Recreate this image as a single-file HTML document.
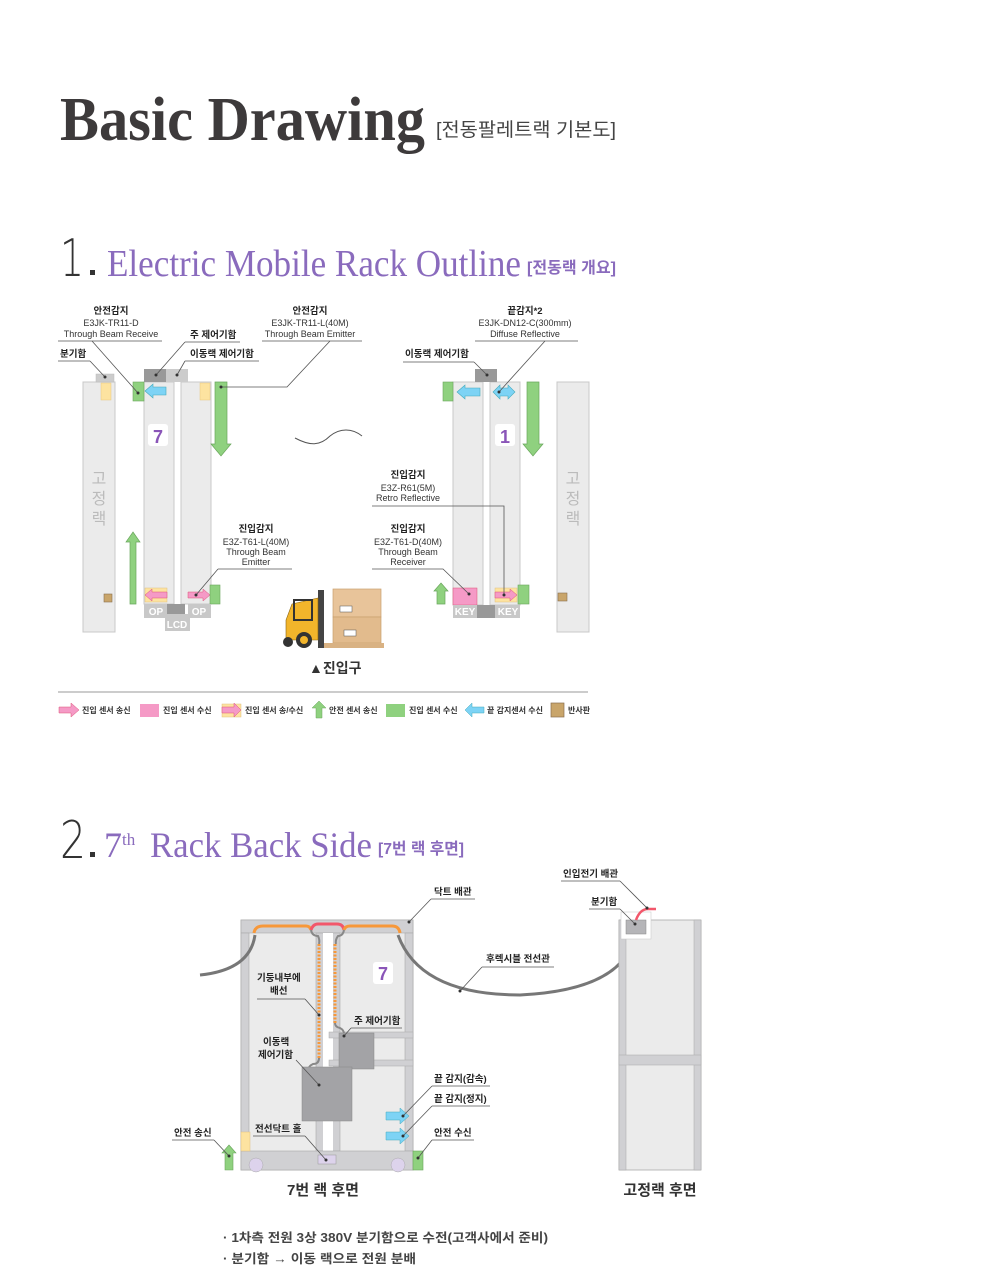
<!DOCTYPE html>
<html><head><meta charset="utf-8"><style>
html,body{margin:0;padding:0;background:#fff;}
svg{display:block}
text{font-family:"Liberation Sans","Noto Sans CJK KR",sans-serif;}
.s{font-size:9px;fill:#333;}
.b{font-size:9.5px;fill:#222;font-weight:bold;}
.ln{stroke:#555;stroke-width:0.8;fill:none;}
.dot{fill:#333;}
</style></head><body>
<svg width="981" height="1270" viewBox="0 0 981 1270" xmlns="http://www.w3.org/2000/svg">
<text x="60" y="140" font-size="62" font-weight="bold" fill="#3d3a3b" textLength="365" lengthAdjust="spacingAndGlyphs" style="font-family:'Liberation Serif',serif">Basic Drawing</text>
<text x="436" y="136" font-size="19" fill="#444" textLength="180" lengthAdjust="spacingAndGlyphs">[전동팔레트랙 기본도]</text>

<text x="60" y="276" font-size="52" fill="#333" textLength="24" lengthAdjust="spacingAndGlyphs" style="font-family:'DejaVu Sans',sans-serif;font-weight:200">1</text>
<rect x="90" y="270" width="5" height="5" fill="#333"/>
<text x="107" y="276" font-size="38" fill="#8a6bbd" textLength="414" lengthAdjust="spacingAndGlyphs" style="font-family:'Liberation Serif',serif">Electric Mobile Rack Outline</text>
<text x="527" y="273" font-size="16" fill="#8a6bbd" font-weight="bold" textLength="89" lengthAdjust="spacingAndGlyphs">[전동랙 개요]</text>

<rect x="83" y="382" width="32" height="250" fill="#ebebeb" stroke="#c8c8c8"/>
<rect x="96" y="374" width="18" height="8" fill="#ccc" stroke="#bbb" stroke-width="0.5"/>
<rect x="101" y="383" width="10" height="17" fill="#fde3a0" stroke="#e8c880" stroke-width="0.5"/>
<text x="99" y="484" font-size="16" fill="#bbb" text-anchor="middle">고</text>
<text x="99" y="504" font-size="16" fill="#bbb" text-anchor="middle">정</text>
<text x="99" y="524" font-size="16" fill="#bbb" text-anchor="middle">랙</text>
<rect x="104" y="594" width="8" height="8" fill="#c9a56a" stroke="#8a7050" stroke-width="0.6"/>

<polygon points="133,532 140,542 136,542 136,604 130,604 130,542 126,542" fill="#8fd17f" stroke="#6aa65c" stroke-width="0.7"/>

<rect x="144" y="382" width="30" height="222" fill="#ebebeb" stroke="#c8c8c8"/>
<rect x="181" y="382" width="30" height="222" fill="#ebebeb" stroke="#c8c8c8"/>
<rect x="144" y="369" width="22" height="13" fill="#999"/>
<rect x="166" y="369" width="22" height="13" fill="#ccc"/>
<rect x="133" y="382" width="11" height="19" fill="#8fd17f" stroke="#6aa65c" stroke-width="0.6"/>
<polygon points="145,391 153,384 153,387 166,387 166,395 153,395 153,398" fill="#7dd3f5" stroke="#4ab" stroke-width="0.6"/>
<rect x="200" y="383" width="10" height="17" fill="#fde3a0" stroke="#e8c880" stroke-width="0.5"/>
<polygon points="215,382 227,382 227,444 231,444 221,456 211,444 215,444" fill="#8fd17f" stroke="#6aa65c" stroke-width="0.7"/>
<rect x="148" y="424" width="20" height="22" rx="3" fill="#fff"/>
<text x="158" y="443" font-size="18" font-weight="bold" fill="#8a55b8" text-anchor="middle">7</text>
<rect x="145" y="588" width="22" height="14" fill="#fde3a0" stroke="#e0c080" stroke-width="0.5"/>
<polygon points="145,595 152,589 152,592 167,592 167,598 152,598 152,601" fill="#f59ac6" stroke="#d57" stroke-width="0.5"/>
<polygon points="188,592 203,592 203,589 210,595 203,601 203,598 188,598" fill="#f59ac6" stroke="#d57" stroke-width="0.5"/>
<rect x="210" y="585" width="10" height="19" fill="#8fd17f" stroke="#6aa65c" stroke-width="0.6"/>
<rect x="144" y="604" width="23" height="14" fill="#c8c8c8"/>
<rect x="167" y="604" width="18" height="10" fill="#999"/>
<rect x="188" y="604" width="23" height="14" fill="#c8c8c8"/>
<rect x="165" y="614" width="25" height="17" fill="#c8c8c8"/>
<text x="156" y="615" font-size="10" font-weight="bold" fill="#fff" text-anchor="middle">OP</text>
<text x="199" y="615" font-size="10" font-weight="bold" fill="#fff" text-anchor="middle">OP</text>
<text x="177" y="628" font-size="10" font-weight="bold" fill="#fff" text-anchor="middle">LCD</text>

<path d="M295,438 C310,446 320,446 330,436 C340,428 352,428 362,436" fill="none" stroke="#555" stroke-width="1"/>

<rect x="453" y="382" width="30" height="223" fill="#ebebeb" stroke="#c8c8c8"/>
<rect x="490" y="382" width="30" height="223" fill="#ebebeb" stroke="#c8c8c8"/>
<rect x="475" y="369" width="22" height="13" fill="#999"/>
<rect x="443" y="382" width="10" height="19" fill="#8fd17f" stroke="#6aa65c" stroke-width="0.6"/>
<polygon points="457,392 465,385 465,388 480,388 480,396 465,396 465,399" fill="#7dd3f5" stroke="#4ab" stroke-width="0.6"/>
<polygon points="493,392 500,385 500,388 508,388 508,385 515,392 508,399 508,396 500,396 500,399" fill="#7dd3f5" stroke="#4ab" stroke-width="0.6"/>
<polygon points="527,382 539,382 539,444 543,444 533,456 523,444 527,444" fill="#8fd17f" stroke="#6aa65c" stroke-width="0.7"/>
<rect x="495" y="424" width="20" height="22" rx="3" fill="#fff"/>
<text x="505" y="443" font-size="18" font-weight="bold" fill="#8a55b8" text-anchor="middle">1</text>
<polygon points="441,583 448,591 445,591 445,604 437,604 437,591 434,591" fill="#8fd17f" stroke="#6aa65c" stroke-width="0.7"/>
<rect x="453" y="588" width="24" height="17" fill="#f59ac6" stroke="#d57" stroke-width="0.5"/>
<rect x="495" y="588" width="22" height="14" fill="#fde3a0" stroke="#e0c080" stroke-width="0.5"/>
<polygon points="495,592 510,592 510,589 517,595 510,601 510,598 495,598" fill="#f59ac6" stroke="#d57" stroke-width="0.5"/>
<rect x="518" y="585" width="11" height="19" fill="#8fd17f" stroke="#6aa65c" stroke-width="0.6"/>
<rect x="453" y="605" width="24" height="13" fill="#c8c8c8"/>
<rect x="477" y="605" width="18" height="13" fill="#999"/>
<rect x="495" y="605" width="25" height="13" fill="#c8c8c8"/>
<text x="465" y="615" font-size="10" font-weight="bold" fill="#fff" text-anchor="middle">KEY</text>
<text x="508" y="615" font-size="10" font-weight="bold" fill="#fff" text-anchor="middle">KEY</text>

<rect x="557" y="382" width="32" height="250" fill="#ebebeb" stroke="#c8c8c8"/>
<text x="573" y="484" font-size="16" fill="#bbb" text-anchor="middle">고</text>
<text x="573" y="504" font-size="16" fill="#bbb" text-anchor="middle">정</text>
<text x="573" y="524" font-size="16" fill="#bbb" text-anchor="middle">랙</text>
<rect x="558" y="593" width="9" height="8" fill="#c9a56a" stroke="#8a7050" stroke-width="0.6"/>

<g>
<rect x="333" y="589" width="48" height="28" fill="#e8c49a" stroke="#c9a070" stroke-width="0.7"/>
<rect x="333" y="617" width="48" height="26" fill="#e2bb8d" stroke="#c9a070" stroke-width="0.7"/>
<rect x="340" y="606" width="12" height="6" fill="#fff" stroke="#555" stroke-width="0.5"/>
<rect x="344" y="630" width="12" height="6" fill="#fff" stroke="#555" stroke-width="0.5"/>
<rect x="322" y="643" width="62" height="5" fill="#d9b283"/>
<rect x="318" y="590" width="6" height="58" fill="#444"/>
<path d="M292,604 L318,598 L318,640 L286,640 L286,620 Z" fill="#f2b52b" stroke="#8a6410" stroke-width="0.6"/>
<rect x="294" y="600" width="18" height="20" fill="none" stroke="#333" stroke-width="2"/>
<circle cx="304" cy="640" r="8" fill="#333"/><circle cx="304" cy="640" r="4" fill="#f2b52b"/>
<circle cx="288" cy="642" r="5" fill="#333"/>
</g>
<text x="309" y="673" font-size="14" font-weight="bold" fill="#333">▲진입구</text>

<text x="111" y="314" class="b" text-anchor="middle">안전감지</text>
<text x="111" y="326" class="s" text-anchor="middle">E3JK-TR11-D</text>
<text x="111" y="337" class="s" text-anchor="middle">Through Beam Receive</text>
<line x1="58" y1="341" x2="162" y2="341" class="ln"/>
<polyline points="92,341 138,393" class="ln"/><circle cx="138" cy="393" r="1.5" class="dot"/>
<text x="60" y="357" class="b">분기함</text>
<line x1="58" y1="361" x2="90" y2="361" class="ln"/>
<polyline points="90,361 105,377" class="ln"/><circle cx="105" cy="377" r="1.5" class="dot"/>
<text x="190" y="338" class="b">주 제어기함</text>
<line x1="185" y1="342" x2="240" y2="342" class="ln"/>
<polyline points="185,342 156,375" class="ln"/><circle cx="156" cy="375" r="1.5" class="dot"/>
<text x="190" y="357" class="b">이동랙 제어기함</text>
<line x1="185" y1="361" x2="259" y2="361" class="ln"/>
<polyline points="185,361 177,375" class="ln"/><circle cx="177" cy="375" r="1.5" class="dot"/>
<text x="310" y="314" class="b" text-anchor="middle">안전감지</text>
<text x="310" y="326" class="s" text-anchor="middle">E3JK-TR11-L(40M)</text>
<text x="310" y="337" class="s" text-anchor="middle">Through Beam Emitter</text>
<line x1="262" y1="341" x2="362" y2="341" class="ln"/>
<polyline points="330,341 287,387 221,387" class="ln"/><circle cx="221" cy="387" r="1.5" class="dot"/>
<text x="525" y="314" class="b" text-anchor="middle">끝감지*2</text>
<text x="525" y="326" class="s" text-anchor="middle">E3JK-DN12-C(300mm)</text>
<text x="525" y="337" class="s" text-anchor="middle">Diffuse Reflective</text>
<line x1="475" y1="341" x2="578" y2="341" class="ln"/>
<polyline points="545,341 499,392" class="ln"/><circle cx="499" cy="392" r="1.5" class="dot"/>
<text x="405" y="357" class="b">이동랙 제어기함</text>
<line x1="403" y1="362" x2="474" y2="362" class="ln"/>
<polyline points="474,362 487,375" class="ln"/><circle cx="487" cy="375" r="1.5" class="dot"/>
<text x="256" y="532" class="b" text-anchor="middle">진입감지</text>
<text x="256" y="545" class="s" text-anchor="middle">E3Z-T61-L(40M)</text>
<text x="256" y="555" class="s" text-anchor="middle">Through Beam</text>
<text x="256" y="565" class="s" text-anchor="middle">Emitter</text>
<line x1="218" y1="569" x2="292" y2="569" class="ln"/>
<polyline points="218,569 196,595" class="ln"/><circle cx="196" cy="595" r="1.5" class="dot"/>
<text x="408" y="478" class="b" text-anchor="middle">진입감지</text>
<text x="408" y="491" class="s" text-anchor="middle">E3Z-R61(5M)</text>
<text x="408" y="501" class="s" text-anchor="middle">Retro Reflective</text>
<polyline points="372,506 504,506 504,595" class="ln"/><circle cx="504" cy="595" r="1.5" class="dot"/>
<text x="408" y="532" class="b" text-anchor="middle">진입감지</text>
<text x="408" y="545" class="s" text-anchor="middle">E3Z-T61-D(40M)</text>
<text x="408" y="555" class="s" text-anchor="middle">Through Beam</text>
<text x="408" y="565" class="s" text-anchor="middle">Receiver</text>
<polyline points="372,569 443,569 469,594" class="ln"/><circle cx="469" cy="594" r="1.5" class="dot"/>

<line x1="58" y1="692" x2="588" y2="692" stroke="#999" stroke-width="1"/>
<polygon points="59,707 71,707 71,703 79,710 71,717 71,713 59,713" fill="#f59ac6" stroke="#d57" stroke-width="0.5"/>
<text x="82" y="713" font-size="8" font-weight="bold" fill="#333">진입 센서 송신</text>
<rect x="140" y="704" width="19" height="13" fill="#f59ac6"/>
<text x="163" y="713" font-size="8" font-weight="bold" fill="#333">진입 센서 수신</text>
<rect x="222" y="704" width="19" height="13" fill="#fde3a0" stroke="#e0c080" stroke-width="0.5"/>
<polygon points="222,707 234,707 234,703 241,710 234,717 234,713 222,713" fill="#f59ac6" stroke="#d57" stroke-width="0.5"/>
<text x="245" y="713" font-size="8" font-weight="bold" fill="#333">진입 센서 송/수신</text>
<polygon points="319,701 326,708 322,708 322,718 316,718 316,708 312,708" fill="#8fd17f" stroke="#6aa65c" stroke-width="0.5"/>
<text x="329" y="713" font-size="8" font-weight="bold" fill="#333">안전 센서 송신</text>
<rect x="386" y="704" width="19" height="13" fill="#8fd17f"/>
<text x="409" y="713" font-size="8" font-weight="bold" fill="#333">진입 센서 수신</text>
<polygon points="465,710 472,703 472,707 484,707 484,713 472,713 472,717" fill="#7dd3f5" stroke="#4ab" stroke-width="0.5"/>
<text x="487" y="713" font-size="8" font-weight="bold" fill="#333">끝 감지센서 수신</text>
<rect x="551" y="703" width="13" height="14" fill="#c9a56a" stroke="#8a7050" stroke-width="0.7"/>
<text x="568" y="713" font-size="8" font-weight="bold" fill="#333">반사판</text>

<text x="60" y="858" font-size="52" fill="#333" textLength="26" lengthAdjust="spacingAndGlyphs" style="font-family:'DejaVu Sans',sans-serif;font-weight:200">2</text>
<rect x="90" y="852" width="5" height="5" fill="#333"/>
<text x="104" y="857" font-size="36" fill="#8a6bbd" style="font-family:'Liberation Serif',serif">7</text>
<text x="122" y="845" font-size="17" fill="#8a6bbd" style="font-family:'Liberation Serif',serif">th</text>
<text x="150" y="857" font-size="36" fill="#8a6bbd" textLength="222" lengthAdjust="spacingAndGlyphs" style="font-family:'Liberation Serif',serif">Rack Back Side</text>
<text x="378" y="854" font-size="16" fill="#8a6bbd" font-weight="bold" textLength="86" lengthAdjust="spacingAndGlyphs">[7번 랙 후면]</text>

<rect x="241" y="920" width="172" height="250" fill="#ebebeb" stroke="#aaa" stroke-width="0.8"/>
<rect x="241" y="920" width="172" height="13" fill="#d0d0d3" stroke="#aaa" stroke-width="0.6"/>
<rect x="241" y="933" width="8" height="218" fill="#d0d0d3" stroke="#aaa" stroke-width="0.6"/>
<rect x="405" y="933" width="8" height="218" fill="#d0d0d3" stroke="#aaa" stroke-width="0.6"/>
<rect x="316" y="933" width="24" height="218" fill="#d0d0d3" stroke="#aaa" stroke-width="0.6"/>
<rect x="323" y="933" width="10" height="218" fill="#fff"/>
<rect x="329" y="1032" width="84" height="6" fill="#d0d0d3" stroke="#aaa" stroke-width="0.5"/>
<rect x="329" y="1060" width="84" height="6" fill="#d0d0d3" stroke="#aaa" stroke-width="0.5"/>
<rect x="241" y="1151" width="172" height="19" fill="#d0d0d3" stroke="#aaa" stroke-width="0.6"/>
<circle cx="256" cy="1165" r="7" fill="#ddd3ec" stroke="#aaa" stroke-width="0.5"/>
<circle cx="398" cy="1165" r="7" fill="#ddd3ec" stroke="#aaa" stroke-width="0.5"/>
<rect x="318" y="1155" width="18" height="9" fill="#ddd3ec" stroke="#999" stroke-width="0.5"/>
<rect x="241" y="1132" width="9" height="19" fill="#fde3a0" stroke="#e0c080" stroke-width="0.5"/>
<path d="M254,933 Q255,926 263,926 L306,926 Q310,926 311,930" fill="none" stroke="#f7983a" stroke-width="3"/>
<path d="M311,930 Q313,924 318,924 L337,924 Q343,924 344,930" fill="none" stroke="#f2576b" stroke-width="3"/>
<path d="M344,930 Q345,926 350,926 L392,926 Q399,926 400,933" fill="none" stroke="#f7983a" stroke-width="3"/>
<path d="M311,930 Q312,936 318,936 Q320,940 319,944" fill="none" stroke="#888" stroke-width="2"/>
<path d="M344,930 Q343,936 338,936 Q335,940 336,944" fill="none" stroke="#888" stroke-width="2"/>
<line x1="319" y1="944" x2="319" y2="1058" stroke="#f7983a" stroke-width="3" stroke-dasharray="2,1.5"/>
<line x1="335" y1="944" x2="335" y2="1023" stroke="#f7983a" stroke-width="3" stroke-dasharray="2,1.5"/>
<path d="M319,1058 Q319,1064 313,1064 Q309,1066 309,1068" fill="none" stroke="#888" stroke-width="2"/>
<path d="M335,1023 Q335,1027 340,1028 Q344,1030 344,1034" fill="none" stroke="#888" stroke-width="2"/>
<rect x="339" y="1033" width="35" height="36" fill="#a3a3a6" stroke="#888" stroke-width="0.5"/>
<rect x="302" y="1067" width="50" height="54" fill="#a3a3a6" stroke="#888" stroke-width="0.5"/>
<rect x="373" y="962" width="20" height="22" rx="3" fill="#fff"/>
<text x="383" y="980" font-size="18" font-weight="bold" fill="#8a55b8" text-anchor="middle">7</text>
<polygon points="386,1112 400,1112 400,1108 409,1116 400,1124 400,1120 386,1120" fill="#7dd3f5" stroke="#4ab" stroke-width="0.5"/>
<polygon points="386,1132 400,1132 400,1128 409,1136 400,1144 400,1140 386,1140" fill="#7dd3f5" stroke="#4ab" stroke-width="0.5"/>
<polygon points="229,1145 236,1153 233,1153 233,1170 225,1170 225,1153 222,1153" fill="#8fd17f" stroke="#6aa65c" stroke-width="0.6"/>
<rect x="413" y="1151" width="10" height="19" fill="#8fd17f" stroke="#6aa65c" stroke-width="0.6"/>

<path d="M255,935 Q250,970 200,975" fill="none" stroke="#777" stroke-width="3"/>
<path d="M398,935 Q420,995 520,995 Q628,990 636,930" fill="none" stroke="#777" stroke-width="3"/>

<rect x="619" y="920" width="82" height="250" fill="#ebebeb" stroke="#aaa" stroke-width="0.8"/>
<rect x="619" y="920" width="7" height="250" fill="#d0d0d3" stroke="#aaa" stroke-width="0.5"/>
<rect x="694" y="920" width="7" height="250" fill="#d0d0d3" stroke="#aaa" stroke-width="0.5"/>
<rect x="619" y="1055" width="82" height="10" fill="#d0d0d3" stroke="#aaa" stroke-width="0.5"/>
<rect x="621" y="912" width="30" height="27" fill="#fff" stroke="#ccc" stroke-width="0.6"/>
<rect x="626" y="920" width="20" height="14" fill="#b5b5b8" stroke="#888" stroke-width="0.5"/>
<path d="M636,920 Q640,909 648,909 L656,909" fill="none" stroke="#f2576b" stroke-width="2.5"/>

<text x="434" y="895" class="b">닥트 배관</text>
<line x1="431" y1="899" x2="475" y2="899" class="ln"/>
<polyline points="431,899 409,922" class="ln"/><circle cx="409" cy="922" r="1.5" class="dot"/>
<text x="486" y="962" class="b">후렉시블 전선관</text>
<line x1="482" y1="967" x2="554" y2="967" class="ln"/>
<polyline points="482,967 460,991" class="ln"/><circle cx="460" cy="991" r="1.5" class="dot"/>
<text x="563" y="877" class="b">인입전기 배관</text>
<line x1="561" y1="881" x2="620" y2="881" class="ln"/>
<polyline points="620,881 647,908" class="ln"/><circle cx="647" cy="908" r="1.5" class="dot"/>
<text x="591" y="905" class="b">분기함</text>
<line x1="589" y1="909" x2="620" y2="909" class="ln"/>
<polyline points="620,909 635,924" class="ln"/><circle cx="635" cy="924" r="1.5" class="dot"/>
<text x="257" y="981" class="b">기둥내부에</text>
<text x="270" y="994" class="b">배선</text>
<line x1="257" y1="999" x2="305" y2="999" class="ln"/>
<polyline points="305,999 319,1015" class="ln"/><circle cx="319" cy="1015" r="1.5" class="dot"/>
<text x="354" y="1024" class="b">주 제어기함</text>
<line x1="351" y1="1028" x2="402" y2="1028" class="ln"/>
<polyline points="351,1028 344,1036" class="ln"/><circle cx="344" cy="1036" r="1.5" class="dot"/>
<text x="263" y="1045" class="b">이동랙</text>
<text x="258" y="1058" class="b">제어기함</text>
<polyline points="296,1060 319,1085" class="ln"/><circle cx="319" cy="1085" r="1.5" class="dot"/>
<text x="434" y="1082" class="b">끝 감지(감속)</text>
<line x1="432" y1="1086" x2="490" y2="1086" class="ln"/>
<polyline points="432,1086 403,1116" class="ln"/><circle cx="403" cy="1116" r="1.5" class="dot"/>
<text x="434" y="1102" class="b">끝 감지(정지)</text>
<line x1="432" y1="1106" x2="490" y2="1106" class="ln"/>
<polyline points="432,1106 403,1136" class="ln"/><circle cx="403" cy="1136" r="1.5" class="dot"/>
<text x="434" y="1136" class="b">안전 수신</text>
<line x1="432" y1="1140" x2="474" y2="1140" class="ln"/>
<polyline points="432,1140 418,1158" class="ln"/><circle cx="418" cy="1158" r="1.5" class="dot"/>
<text x="174" y="1136" class="b">안전 송신</text>
<line x1="172" y1="1140" x2="214" y2="1140" class="ln"/>
<polyline points="214,1140 229,1156" class="ln"/><circle cx="229" cy="1156" r="1.5" class="dot"/>
<text x="255" y="1132" class="b">전선닥트 홀</text>
<line x1="253" y1="1136" x2="305" y2="1136" class="ln"/>
<polyline points="305,1136 326,1160" class="ln"/><circle cx="326" cy="1160" r="1.5" class="dot"/>
<text x="323" y="1195" font-size="15" font-weight="bold" fill="#333" text-anchor="middle">7번 랙 후면</text>
<text x="660" y="1195" font-size="15" font-weight="bold" fill="#333" text-anchor="middle">고정랙 후면</text>

<text x="223" y="1242" font-size="12.5" font-weight="bold" fill="#444" textLength="325" lengthAdjust="spacingAndGlyphs">· 1차측 전원 3상 380V 분기함으로 수전(고객사에서 준비)</text>
<text x="223" y="1263" font-size="12.5" font-weight="bold" fill="#444" textLength="193" lengthAdjust="spacingAndGlyphs">· 분기함 → 이동 랙으로 전원 분배</text>
</svg>
</body></html>
